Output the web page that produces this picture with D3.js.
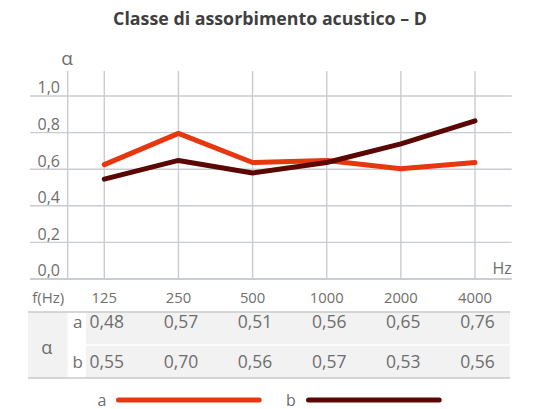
<!DOCTYPE html>
<html>
<head>
<meta charset="utf-8">
<script src="https://cdn.jsdelivr.net/npm/d3@7"></script>
<style>
  html, body { margin: 0; padding: 0; background: #fff; }
  svg { display: block; font-family: "Open Sans", "Noto Sans", sans-serif; }
</style>
</head>
<body>
<svg id="chart" width="538" height="409"></svg>
<script>
// Frequencies (Hz) and absorption coefficients per sample
const freqs = ["125", "250", "500", "1000", "2000", "4000"];
const alphaA = [0.48, 0.57, 0.51, 0.56, 0.65, 0.76];
const alphaB = [0.55, 0.70, 0.56, 0.57, 0.53, 0.56];
const yTicks = [0, 0.2, 0.4, 0.6, 0.8, 1.0];
const legendLabels = ["a", "b"];

const RED = "#e6370f";
const DARK = "#5b0804";
const GRID = "#c8ccd1";
const TEXT = "#6e6e6e";

const svg = d3.select("#chart");
const fmt = v => d3.format(".2f")(v).replace(".", ",");
const fmtTick = v => d3.format(".1f")(v).replace(".", ",");

const plot = { left: 30, axisX: 67.7, right: 511.7, top: 71, bottom: 279 };

const x = d3.scalePoint().domain(freqs).range([104.3, 475]);
// curves use the full frame height; the labelled grid tops out at 1,0 a bit lower
const y = d3.scaleLinear().domain([0, 1]).range([plot.bottom, plot.top]);
const yGrid = d3.scaleLinear().domain([0, 1]).range([plot.bottom, 96]);

// title
svg.append("text")
  .attr("x", 270).attr("y", 25)
  .attr("text-anchor", "middle")
  .attr("font-weight", 700)
  .attr("font-size", 17.8)
  .attr("fill", "#3f3f3f")
  .text("Classe di assorbimento acustico – D");

// horizontal grid + tick labels
const g = svg.append("g");
g.selectAll("line.h").data(yTicks).join("line")
  .attr("x1", plot.left).attr("x2", plot.right)
  .attr("y1", d => yGrid(d)).attr("y2", d => yGrid(d))
  .attr("stroke", d => d === 0 ? "#b9bdc2" : GRID)
  .attr("stroke-width", 1.4);
g.selectAll("text.tick").data(yTicks).join("text")
  .attr("x", 60).attr("y", d => yGrid(d) - 2.7)
  .attr("text-anchor", "end")
  .attr("font-size", 16)
  .attr("fill", TEXT)
  .text(fmtTick);

// vertical grid: value axis + one line per frequency
g.append("line")
  .attr("x1", plot.axisX).attr("x2", plot.axisX)
  .attr("y1", plot.top).attr("y2", plot.bottom)
  .attr("stroke", GRID).attr("stroke-width", 1.4);
g.selectAll("line.v").data(freqs).join("line")
  .attr("x1", d => x(d)).attr("x2", d => x(d))
  .attr("y1", plot.top).attr("y2", plot.bottom)
  .attr("stroke", GRID).attr("stroke-width", 1.4);

// axis titles
svg.append("text")
  .attr("x", 67).attr("y", 65)
  .attr("text-anchor", "middle")
  .attr("font-size", 19).attr("fill", TEXT)
  .text("α");
svg.append("text")
  .attr("x", plot.right).attr("y", 273.5)
  .attr("text-anchor", "end")
  .attr("font-size", 16).attr("fill", TEXT)
  .text("Hz");

// curves
const line = d3.line()
  .x((d, i) => x(freqs[i]))
  .y(d => y(d));
const curves = [
  { values: alphaB, color: RED },
  { values: alphaA, color: DARK }
];
svg.selectAll("path.curve").data(curves).join("path")
  .attr("d", d => line(d.values))
  .attr("fill", "none")
  .attr("stroke", d => d.color)
  .attr("stroke-width", 5)
  .attr("stroke-linejoin", "round")
  .attr("stroke-linecap", "round");

// data table
const tbl = { left: 28, right: 510, top: 312, mid: 345, bottom: 378 };
svg.append("text")
  .attr("x", 32.3).attr("y", 303.3)
  .attr("font-size", 15).attr("fill", TEXT)
  .text("f(Hz)");
svg.selectAll("text.freq").data(freqs).join("text")
  .attr("x", d => x(d)).attr("y", 303.3)
  .attr("text-anchor", "middle")
  .attr("font-size", 14.8).attr("fill", TEXT)
  .text(d => d);

svg.append("rect")
  .attr("x", tbl.left).attr("y", tbl.top)
  .attr("width", tbl.right - tbl.left).attr("height", tbl.bottom - tbl.top)
  .attr("fill", "#f2f2f2");
svg.append("rect")
  .attr("x", 67.7).attr("y", tbl.top)
  .attr("width", 18.3).attr("height", tbl.bottom - tbl.top)
  .attr("fill", "#fff");
svg.append("line")
  .attr("x1", 67.7).attr("x2", tbl.right)
  .attr("y1", tbl.mid).attr("y2", tbl.mid)
  .attr("stroke", "#fff").attr("stroke-width", 1.5);
[tbl.top, tbl.bottom].forEach(yy => {
  svg.append("line")
    .attr("x1", tbl.left).attr("x2", tbl.right)
    .attr("y1", yy).attr("y2", yy)
    .attr("stroke", "#c9cacc").attr("stroke-width", 1.6);
});

svg.append("text")
  .attr("x", 46.7).attr("y", 353.5)
  .attr("text-anchor", "middle")
  .attr("font-size", 18).attr("fill", TEXT)
  .text("α");

const rows = [
  { label: legendLabels[0], values: alphaA, base: 327.7 },
  { label: legendLabels[1], values: alphaB, base: 368.3 }
];
rows.forEach(r => {
  svg.append("text")
    .attr("x", 77.8).attr("y", r.base)
    .attr("text-anchor", "middle")
    .attr("font-size", 17).attr("fill", TEXT)
    .text(r.label);
  svg.selectAll(null).data(r.values).join("text")
    .attr("x", (d, i) => x(freqs[i]) + 2.5).attr("y", r.base)
    .attr("text-anchor", "middle")
    .attr("font-size", 17.5).attr("fill", TEXT)
    .text(fmt);
});

// legend
const legend = [
  { label: legendLabels[0], color: RED, tx: 102, x1: 116, x2: 261.7 },
  { label: legendLabels[1], color: DARK, tx: 291, x1: 306, x2: 441.7 }
];
legend.forEach(l => {
  svg.append("text")
    .attr("x", l.tx).attr("y", 405.5)
    .attr("text-anchor", "middle")
    .attr("font-size", 16).attr("fill", TEXT)
    .text(l.label);
  svg.append("line")
    .attr("x1", l.x1 + 2.5).attr("x2", l.x2 - 2.5)
    .attr("y1", 400).attr("y2", 400)
    .attr("stroke", l.color).attr("stroke-width", 5)
    .attr("stroke-linecap", "round");
});
</script>
</body>
</html>
